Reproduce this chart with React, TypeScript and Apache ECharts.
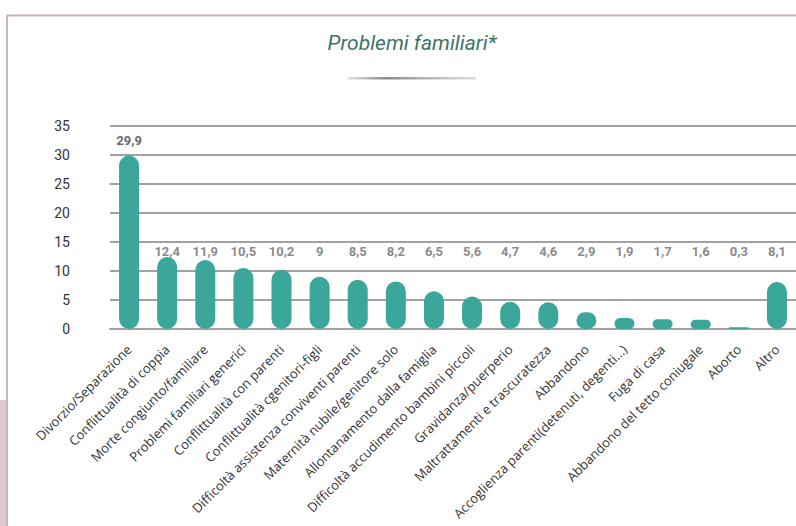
import React, { useEffect, useRef } from "react";
import * as echarts from "echarts";

const categories = [
  "Divorzio/Separazione",
  "Conflittualità di coppia",
  "Morte congiunto/familiare",
  "Problemi familiari generici",
  "Conflittualità con parenti",
  "Conflittualità cgenitori-figli",
  "Difficoltà assistenza conviventi parenti",
  "Maternità nubile/genitore solo",
  "Allontanamento dalla famiglia",
  "Difficoltà accudimento bambini piccoli",
  "Gravidanza/puerperio",
  "Maltrattamenti e trascuratezza",
  "Abbandono",
  "Accoglienza parenti(detenuti, degenti...)",
  "Fuga di casa",
  "Abbandono del tetto coniugale",
  "Aborto",
  "Altro",
];

const values = [29.9, 12.4, 11.9, 10.5, 10.2, 9, 8.5, 8.2, 6.5, 5.6, 4.7, 4.6, 2.9, 1.9, 1.7, 1.6, 0.3, 8.1];

const yTicks = [0, 5, 10, 15, 20, 25, 30, 35];

// level (in axis units) of the row where the smaller value labels sit
const LABEL_ROW = 13.3;

const fmt = (v: number) => String(v).replace(".", ",");

export default function App() {
  const ref = useRef<HTMLDivElement>(null);

  useEffect(() => {
    if (!ref.current) return;
    const chart = echarts.init(ref.current, undefined, { renderer: "svg" });
    const barColor = "#3aa79a";
    const gridColor = "#a2a2a2";
    chart.setOption({
      animation: false,
      backgroundColor: "#ffffff",
      graphic: [
        { type: "line", shape: { x1: 7, y1: 15.5, x2: 796, y2: 15.5 }, style: { stroke: "#cdb2b6", lineWidth: 2 } },
        { type: "line", shape: { x1: 7, y1: 15, x2: 7, y2: 526 }, style: { stroke: "#cdb2b6", lineWidth: 2 } },
        { type: "rect", shape: { x: 0, y: 400, width: 6, height: 126 }, style: { fill: "#dccacc" } },
        {
          type: "text",
          x: 412,
          y: 43,
          style: {
            text: "Problemi familiari*",
            fill: "#3b7366",
            font: "italic 21px Roboto",
            textAlign: "center",
            textVerticalAlign: "middle",
          },
        },
        {
          type: "rect",
          shape: { x: 348, y: 77, width: 128, height: 2.5 },
          style: {
            fill: new echarts.graphic.LinearGradient(0, 0, 1, 0, [
              { offset: 0, color: "rgba(150,150,150,0.3)" },
              { offset: 0.3, color: "#8a8a8a" },
              { offset: 1, color: "rgba(170,170,170,0.4)" },
            ]),
          },
        },
      ],
      grid: { left: 110, top: 126, width: 689, bottom: 197, containLabel: false },
      xAxis: {
        type: "category",
        data: categories,
        axisLine: { show: true, lineStyle: { color: gridColor, width: 2 } },
        axisTick: { show: false },
        axisLabel: {
          interval: 0,
          rotate: 45,
          margin: 18,
          fontSize: 13,
          fontFamily: "Open Sans",
          color: "#333333",
        },
      },
      yAxis: {
        type: "value",
        min: 0,
        max: 35,
        interval: 5,
        axisLine: { show: false },
        axisTick: { show: false },
        splitLine: { lineStyle: { color: gridColor, width: 2 } },
        axisLabel: {
          margin: 40,
          fontSize: 14,
          fontFamily: "Roboto",
          color: "#333333",
          formatter: (v: number) => (yTicks.includes(v) ? String(v) : ""),
        },
      },
      series: [
        {
          type: "bar",
          data: values.map((v, i) => ({
            value: v,
            label: {
              show: i === 0,
              position: "top",
              distance: 9,
              formatter: fmt(v),
              fontSize: 13,
              fontWeight: "bold",
              fontFamily: "Roboto",
              color: "#6b6b6b",
            },
          })),
          barWidth: 20,
          itemStyle: { color: barColor, borderRadius: 10 },
          z: 3,
        },
        {
          type: "scatter",
          symbolSize: 0,
          silent: true,
          data: values.map((v, i) => (i === 0 ? "-" : LABEL_ROW)),
          label: {
            show: true,
            position: "inside",
            formatter: (p: any) => fmt(values[p.dataIndex]),
            fontSize: 13,
            fontWeight: "bold",
            fontFamily: "Roboto",
            color: "#6b6b6b",
          },
          z: 4,
        },
      ],
    });
    return () => chart.dispose();
  }, []);

  return (
    <div
      ref={ref}
      style={{ position: "fixed", left: 0, top: 0, width: 796, height: 526, background: "#fff" }}
    />
  );
}
